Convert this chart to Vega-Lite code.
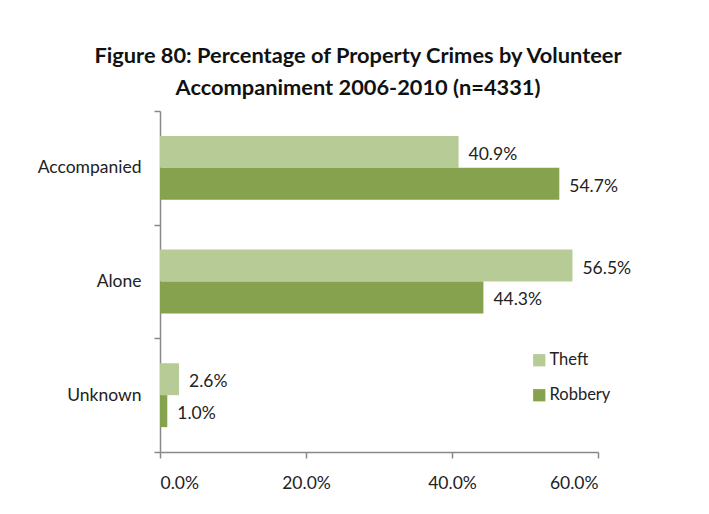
{
  "$schema": "https://vega.github.io/schema/vega-lite/v6.json",
  "autosize": "none",
  "padding": {"left": 160, "top": 111, "right": 111, "bottom": 62},
  "width": 438,
  "height": 341,
  "background": "white",
  "title": {
    "text": ["Figure 80:  Percentage of Property Crimes by Volunteer", "Accompaniment 2006-2010 (n=4331)"],
    "font": "Lato",
    "fontSize": 21.8,
    "fontWeight": "bold",
    "color": "#111111",
    "lineHeight": 32,
    "anchor": "middle",
    "dx": -21,
    "offset": 2
  },
  "data": {
    "values": [
      {"status": "Accompanied", "crime": "Theft", "pct": 0.409},
      {"status": "Accompanied", "crime": "Robbery", "pct": 0.547},
      {"status": "Alone", "crime": "Theft", "pct": 0.565},
      {"status": "Alone", "crime": "Robbery", "pct": 0.443},
      {"status": "Unknown", "crime": "Theft", "pct": 0.026},
      {"status": "Unknown", "crime": "Robbery", "pct": 0.010}
    ]
  },
  "encoding": {
    "y": {
      "field": "status",
      "type": "nominal",
      "sort": ["Accompanied", "Alone", "Unknown"],
      "scale": {"paddingInner": 0, "paddingOuter": 0},
      "axis": {
        "title": null,
        "tickBand": "extent",
        "tickSize": 6,
        "labelPadding": 13,
        "labelFontSize": 17.5,
        "labelFont": "Lato",
        "labelColor": "#222222",
        "domainColor": "#888888",
        "tickColor": "#888888",
        "domainWidth": 1.5,
        "tickWidth": 1.5
      }
    },
    "yOffset": {
      "field": "crime",
      "type": "nominal",
      "sort": ["Theft", "Robbery"],
      "scale": {"paddingInner": 0, "paddingOuter": 0.78}
    },
    "x": {
      "field": "pct",
      "type": "quantitative",
      "scale": {"domain": [0, 0.6], "nice": false},
      "axis": {
        "title": null,
        "values": [0, 0.2, 0.4, 0.6],
        "format": ".1%",
        "grid": false,
        "tickSize": 6,
        "labelPadding": 16,
        "labelFontSize": 17.5,
        "labelFont": "Lato",
        "labelColor": "#222222",
        "domainColor": "#888888",
        "tickColor": "#888888",
        "domainWidth": 1.5,
        "tickWidth": 1.5
      }
    }
  },
  "layer": [
    {
      "mark": {"type": "bar"},
      "encoding": {
        "color": {
          "field": "crime",
          "type": "nominal",
          "sort": ["Theft", "Robbery"],
          "scale": {"domain": ["Theft", "Robbery"], "range": ["#B7CB96", "#87A24F"]},
          "legend": {
            "title": null,
            "orient": "none",
            "legendX": 371,
            "legendY": 241,
            "symbolType": "square",
            "symbolSize": 150,
            "symbolStrokeWidth": 0,
            "labelFontSize": 16.5,
            "labelFont": "Lato",
            "labelColor": "#222222",
            "labelOffset": 2,
            "rowPadding": 18
          }
        }
      }
    },
    {
      "mark": {
        "type": "text",
        "align": "left",
        "baseline": "middle",
        "dx": 10,
        "dy": 3,
        "fontSize": 17.5,
        "font": "Lato",
        "color": "#222222"
      },
      "encoding": {
        "text": {"field": "pct", "type": "quantitative", "format": ".1%"}
      }
    }
  ],
  "config": {
    "view": {"stroke": null}
  }
}
